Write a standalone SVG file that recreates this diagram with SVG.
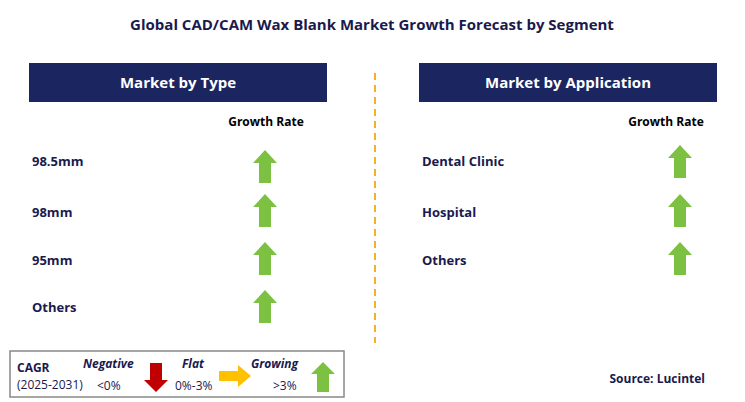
<svg xmlns="http://www.w3.org/2000/svg" width="745" height="402" viewBox="0 0 745 402">
<defs>
<style>
text{font-family:"Open Sans","Liberation Sans",sans-serif;font-weight:bold}
.t{font-size:14px;fill:#1a1a4e}
.h{font-size:15px;fill:#fff;text-anchor:middle}
.g{font-size:12px;fill:#000;text-anchor:middle}
.i{font-size:13px;fill:#1a1a4e}
.lg{font-size:12px;fill:#1a1a4e;font-style:italic;font-weight:bold}
.ln{font-size:12px;fill:#1a1a4e;font-weight:normal}
</style>
<path id="up" d="M0,0 L12,13 L6,13 L6,33 L-6,33 L-6,13 L-12,13 Z" fill="#7dc142"/>
</defs>
<rect width="745" height="402" fill="#fff"/>
<text x="372" y="30" text-anchor="middle" style="font-size:15px;fill:#1a1a4e">Global CAD/CAM Wax Blank Market Growth Forecast by Segment</text>
<g id="left-header"><rect x="29" y="63" width="298" height="39" fill="#1b2560"/><text class="h" x="178" y="88">Market by Type</text></g>
<g id="right-header"><rect x="419" y="63" width="298" height="39" fill="#1b2560"/><text class="h" x="568" y="88">Market by Application</text></g>
<g id="connectors"><line x1="375" y1="73" x2="375" y2="343" stroke="#f5b21a" stroke-width="2" stroke-dasharray="7,5"/></g>
<text class="g" x="266" y="126">Growth Rate</text>
<text class="g" x="666" y="126">Growth Rate</text>
<g id="n1"><text class="i" x="32" y="166">98.5mm</text><use href="#up" x="265" y="150"/></g>
<g id="n2"><text class="i" x="32" y="217">98mm</text><use href="#up" x="265" y="194"/></g>
<g id="n3"><text class="i" x="32" y="265">95mm</text><use href="#up" x="265" y="242"/></g>
<g id="n4"><text class="i" x="32" y="312">Others</text><use href="#up" x="265" y="290"/></g>
<g id="n5"><text class="i" x="422" y="166">Dental Clinic</text><use href="#up" x="680" y="145"/></g>
<g id="n6"><text class="i" x="422" y="217">Hospital</text><use href="#up" x="680" y="194"/></g>
<g id="n7"><text class="i" x="422" y="265">Others</text><use href="#up" x="680" y="242"/></g>
<g id="legend">
<rect x="10" y="351" width="334" height="46" fill="#fff" stroke="#888" stroke-width="1.5"/>
<text class="i" x="17" y="372" style="font-size:12px">CAGR</text>
<text class="ln" x="17" y="389">(2025-2031)</text>
<text class="lg" x="83" y="368">Negative</text>
<text class="ln" x="97" y="390">&lt;0%</text>
<path d="M150,363 L162,363 L162,380 L168,380 L156,392 L144,380 L150,380 Z" fill="#c00000"/>
<text class="lg" x="182" y="368">Flat</text>
<text class="ln" x="175" y="390">0%-3%</text>
<path d="M219,371 L238,371 L238,365 L251,376 L238,387 L238,381 L219,381 Z" fill="#ffc000"/>
<text class="lg" x="251" y="368">Growing</text>
<text class="ln" x="273" y="390">&gt;3%</text>
<path d="M323,362 L335,374 L329,374 L329,392 L317,392 L317,374 L311,374 Z" fill="#7dc142"/>
</g>
<text x="705" y="383" text-anchor="end" style="font-size:12px;fill:#1a1a4e">Source: Lucintel</text>
</svg>
